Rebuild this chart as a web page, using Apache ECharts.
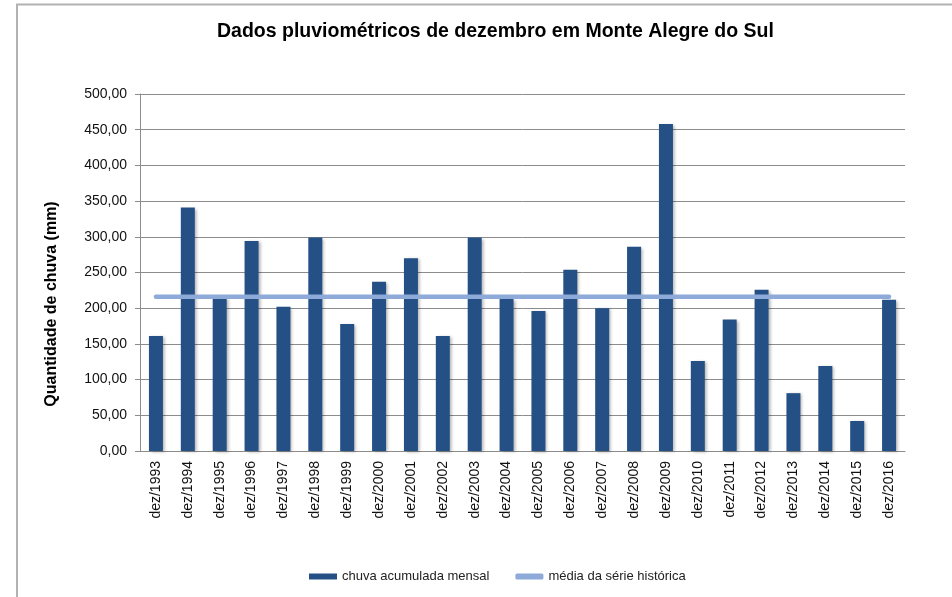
<!DOCTYPE html>
<html>
<head>
<meta charset="utf-8">
<script src="https://cdn.jsdelivr.net/npm/echarts@6/dist/echarts.min.js"></script>
<style>
    html, body { margin: 0; padding: 0; background: #fff; }
    #chart_main { width: 952px; height: 597px; }
</style>
</head>
<body>
<div id="chart_main"></div>
<script>
// dados
var anos = ['dez/1993', 'dez/1994', 'dez/1995', 'dez/1996', 'dez/1997', 'dez/1998', 'dez/1999', 'dez/2000',
    'dez/2001', 'dez/2002', 'dez/2003', 'dez/2004', 'dez/2005', 'dez/2006', 'dez/2007', 'dez/2008',
    'dez/2009', 'dez/2010', 'dez/2011', 'dez/2012', 'dez/2013', 'dez/2014', 'dez/2015', 'dez/2016'];
var chuvaMensal = [161, 341, 214, 294, 202, 299, 178, 237, 270, 161, 299, 213,
    196, 254, 200, 286, 458, 126, 184, 226, 81, 119, 42, 212];
var mediaHistorica = [216, 216, 216, 216, 216, 216, 216, 216, 216, 216, 216, 216,
    216, 216, 216, 216, 216, 216, 216, 216, 216, 216, 216, 216];
var nomesSeries = ['chuva acumulada mensal', 'média da série histórica'];

var fonte = '"Liberation Sans", Arial, sans-serif';

var myChart = echarts.init(document.getElementById('chart_main'));
var option = {
    backgroundColor: '#fff',
    animation: false,
    textStyle: { fontFamily: fonte },
    title: {
        text: 'Dados pluviométricos de dezembro em Monte Alegre do Sul',
        left: 212,
        top: 17,
        textStyle: { fontSize: 19.5, fontWeight: 'bold', color: '#000', fontFamily: fonte }
    },
    graphic: [
        {
            type: 'polyline',
            shape: { points: [[17, 600], [17, 4.5], [960, 4.5]] },
            style: { stroke: '#b2b2b2', lineWidth: 2, fill: null }
        },
        {
            // título do eixo y
            type: 'text',
            x: 52,
            y: 304,
            rotation: Math.PI / 2,
            style: {
                text: 'Quantidade de chuva (mm)',
                font: 'bold 16px ' + fonte,
                fill: '#000',
                align: 'center',
                verticalAlign: 'middle'
            }
        }
    ],
    legend: {
        bottom: 9,
        left: 304,
        itemGap: 26,
        itemWidth: 28,
        itemHeight: 6,
        textStyle: { fontSize: 13, color: '#222' },
        data: [
            { name: nomesSeries[0], icon: 'rect' },
            { name: nomesSeries[1], icon: 'roundRect' }
        ]
    },
    grid: {
        left: 140,
        right: 47,
        top: 94,
        bottom: 146
    },
    xAxis: {
        type: 'category',
        data: anos,
        axisLine: { lineStyle: { color: '#8c8c8c', width: 1 } },
        axisTick: { show: false },
        axisLabel: {
            rotate: 90,
            interval: 0,
            fontSize: 14,
            color: '#111',
            margin: 10
        }
    },
    yAxis: {
        type: 'value',
        min: 0,
        max: 500,
        interval: 50,
        axisLine: { show: true, lineStyle: { color: '#8c8c8c' } },
        axisTick: { show: true, length: 5, lineStyle: { color: '#8c8c8c' } },
        splitLine: { lineStyle: { color: '#8c8c8c', width: 1 } },
        axisLabel: {
            fontSize: 14,
            color: '#111',
            margin: 13,
            formatter: function (v) { return v.toFixed(2).replace('.', ','); }
        }
    },
    series: [
        {
            name: nomesSeries[0],
            type: 'bar',
            data: chuvaMensal,
            barWidth: 14,
            itemStyle: {
                color: '#255086',
                shadowColor: 'rgba(0,0,0,0.3)',
                shadowBlur: 3,
                shadowOffsetX: 2,
                shadowOffsetY: 1
            }
        },
        {
            name: nomesSeries[1],
            type: 'line',
            data: mediaHistorica,
            symbol: 'none',
            z: 3,
            lineStyle: { color: '#8eaad8', width: 4.5, cap: 'round' },
            itemStyle: { color: '#8eaad8' }
        }
    ]
};
myChart.setOption(option);
</script>
</body>
</html>
